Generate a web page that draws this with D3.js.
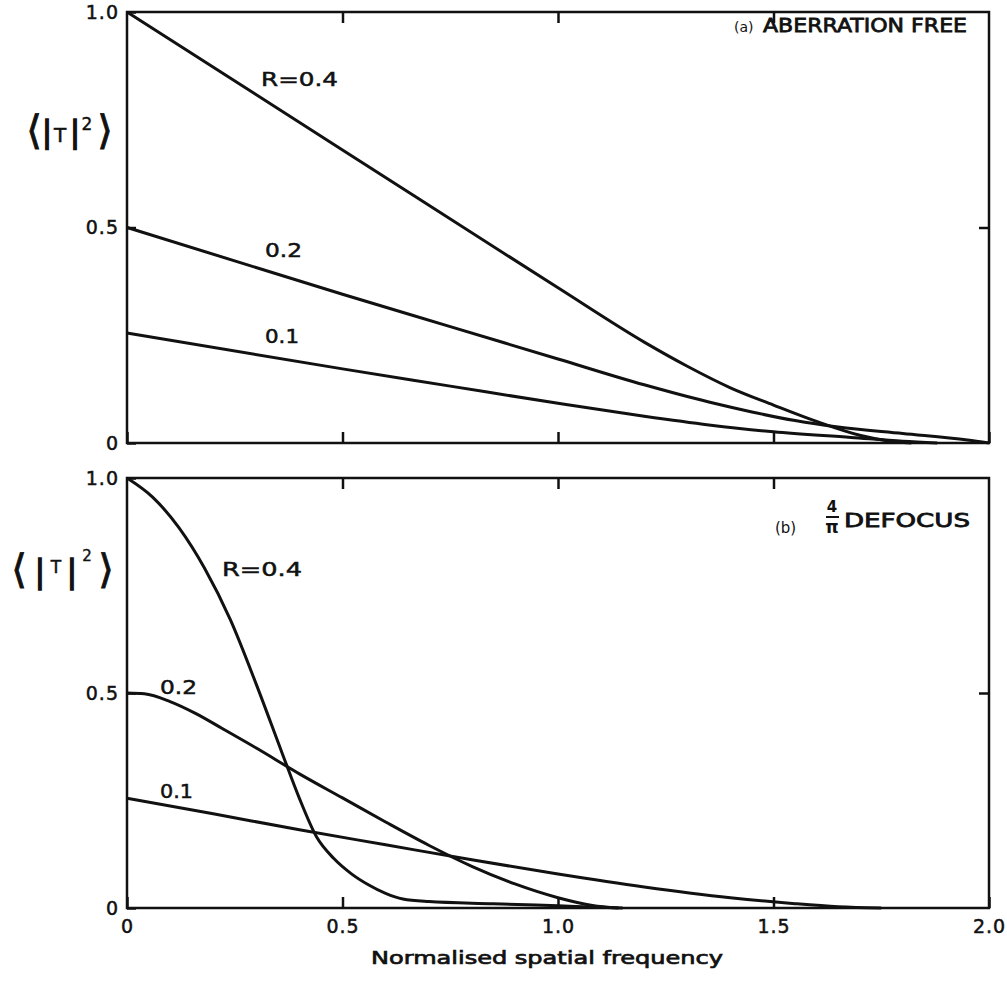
<!DOCTYPE html>
<html>
<head>
<meta charset="utf-8">
<script src="https://cdn.jsdelivr.net/npm/d3@7"></script>
<style>
  body { margin: 0; background: #fff; }
  svg { display: block; }
</style>
</head>
<body>
<svg id="chart"></svg>
<script>
// spatial frequency / mean squared transfer
// (a) aberration free
var freeR04X = [0, 0.5, 1.0, 1.2, 1.3, 1.4, 1.5, 1.6, 1.7, 1.76, 1.82];
var freeR04Y = [1.0, 0.68, 0.36, 0.234, 0.178, 0.128, 0.088, 0.05, 0.018, 0.006, 0];
var freeR02X = [0, 0.5, 0.75, 1.0, 1.2, 1.35, 1.45, 1.55, 1.65, 1.8, 1.95, 2.0];
var freeR02Y = [0.5, 0.345, 0.27, 0.195, 0.135, 0.095, 0.072, 0.052, 0.037, 0.022, 0.007, 0];
var freeR01X = [0, 0.5, 0.75, 1.0, 1.2, 1.35, 1.5, 1.68, 1.8, 1.88];
var freeR01Y = [0.255, 0.172, 0.132, 0.092, 0.062, 0.042, 0.026, 0.013, 0.004, 0];

// (b) 4/pi defocus
var defR04X = [0, 0.06, 0.12, 0.18, 0.24, 0.30, 0.36, 0.40, 0.44, 0.48, 0.52, 0.56, 0.60, 0.64, 0.7, 0.85, 1.0, 1.15];
var defR04Y = [1.0, 0.955, 0.885, 0.79, 0.67, 0.52, 0.36, 0.255, 0.165, 0.115, 0.08, 0.054, 0.034, 0.021, 0.015, 0.01, 0.005, 0];
var defR02X = [0, 0.04, 0.1, 0.16, 0.22, 0.3, 0.4, 0.5, 0.6, 0.7, 0.8, 0.9, 1.0, 1.08, 1.14];
var defR02Y = [0.5, 0.498, 0.48, 0.452, 0.418, 0.372, 0.312, 0.256, 0.2, 0.146, 0.097, 0.056, 0.024, 0.006, 0];
var defR01X = [0, 0.2, 0.4, 0.6, 0.8, 1.0, 1.2, 1.4, 1.55, 1.65, 1.75];
var defR01Y = [0.255, 0.219, 0.182, 0.147, 0.112, 0.079, 0.049, 0.024, 0.01, 0.003, 0];

var xTicks = [0, 0.5, 1.0, 1.5, 2.0];
var yTicks = [0, 0.5, 1.0];

var W = 1007, H = 981;
var svg = d3.select("#chart").attr("width", W).attr("height", H);
svg.append("rect").attr("width", W).attr("height", H).attr("fill", "#fff");

var x = d3.scaleLinear().domain([0, 2]).range([127, 989]);
var yTop = d3.scaleLinear().domain([0, 1]).range([443, 12]);
var yBot = d3.scaleLinear().domain([0, 1]).range([908, 478]);

var FONT = "DejaVu Sans, Liberation Sans, sans-serif";

function fmt(d) { return d === 0 ? "0" : d.toFixed(1); }

function drawPanel(y, series, showXLabels) {
  var g = svg.append("g");

  // inward ticks on all sides
  g.append("g")
    .attr("transform", "translate(0," + y(0) + ")")
    .call(d3.axisBottom(x).tickValues(xTicks).tickSizeInner(-11).tickSizeOuter(0)
      .tickPadding(12).tickFormat(showXLabels ? fmt : ""));
  g.append("g")
    .attr("transform", "translate(0," + y(1) + ")")
    .call(d3.axisTop(x).tickValues([0.5, 1.0, 1.5]).tickSizeInner(-11).tickSizeOuter(0).tickFormat(""));
  g.append("g")
    .attr("transform", "translate(" + x(2) + ",0)")
    .call(d3.axisRight(y).tickValues([0.5]).tickSizeInner(-10).tickSizeOuter(0).tickFormat(""));
  g.append("g")
    .attr("transform", "translate(" + x(0) + ",0)")
    .call(d3.axisLeft(y).tickValues(yTicks).tickSizeInner(-9).tickSizeOuter(0)
      .tickPadding(8).tickFormat(fmt));

  g.selectAll(".domain").remove();
  g.selectAll(".tick line").attr("stroke", "#111").attr("stroke-width", 2.5);
  g.selectAll(".tick text")
    .attr("font-family", FONT).attr("font-size", 19).attr("fill", "#111")
    .attr("stroke", "#111").attr("stroke-width", 0.5)
    .attr("letter-spacing", 1);

  // frame
  g.append("rect")
    .attr("x", x(0)).attr("y", y(1))
    .attr("width", x(2) - x(0)).attr("height", y(0) - y(1))
    .attr("fill", "none").attr("stroke", "#111").attr("stroke-width", 2.5);

  var line = d3.line()
    .x(function(d) { return x(d[0]); })
    .y(function(d) { return y(d[1]); })
    .curve(d3.curveMonotoneX);

  series.forEach(function(s) {
    g.append("path")
      .datum(d3.zip(s[0], s[1]))
      .attr("d", line)
      .attr("fill", "none")
      .attr("stroke", "#111")
      .attr("stroke-width", 3)
      .attr("stroke-linejoin", "round");
  });
  return g;
}

var gTop = drawPanel(yTop, [[freeR04X, freeR04Y], [freeR02X, freeR02Y], [freeR01X, freeR01Y]], false);
var gBot = drawPanel(yBot, [[defR04X, defR04Y], [defR02X, defR02Y], [defR01X, defR01Y]], true);

function label(g, txt, px, py, size, opts) {
  opts = opts || {};
  var t = g.append("text")
    .attr("x", px).attr("y", py)
    .attr("font-family", FONT)
    .attr("font-size", size)
    .attr("font-weight", opts.weight || "normal")
    .attr("fill", "#111")
    .attr("stroke", "#111").attr("stroke-width", opts.sw == null ? 0.5 : opts.sw)
    .attr("text-anchor", opts.anchor || "start")
    .text(txt);
  if (opts.len) t.attr("textLength", opts.len).attr("lengthAdjust", "spacingAndGlyphs");
  return t;
}

// curve labels
label(gTop, "R=0.4", 261, 86, 19, {len: 77});
label(gTop, "0.2", 265, 257, 19, {len: 37});
label(gTop, "0.1", 265, 343, 19, {len: 34});
label(gBot, "R=0.4", 222, 576, 19, {len: 80});
label(gBot, "0.2", 160, 694, 19, {len: 37});
label(gBot, "0.1", 160, 798, 19, {len: 33});

// panel titles
label(gTop, "(a)", 734, 32, 14, {sw: 0});
label(gTop, "ABERRATION FREE", 763, 32, 20, {sw: 0.8, len: 204});
label(gBot, "(b)", 775, 533, 15, {sw: 0});
label(gBot, "4", 832, 512, 15, {weight: "bold", sw: 0, anchor: "middle"});
gBot.append("line").attr("x1", 826).attr("x2", 839).attr("y1", 517).attr("y2", 517)
  .attr("stroke", "#111").attr("stroke-width", 2);
label(gBot, "π", 832, 533, 17, {weight: "bold", sw: 0, anchor: "middle"});
label(gBot, "DEFOCUS", 844, 527, 20, {sw: 0.8, len: 126});

// y axis titles  <|T|^2>
function yTitle(parts) {
  var g = svg.append("g");
  parts.forEach(function(p) {
    label(g, p[0], p[1], p[2], p[3], {anchor: "middle", sw: p[4], weight: p[5] || "normal"});
  });
}
yTitle([
  ["⟨", 34, 144, 40, 0.9],
  ["|", 47, 142, 31, 1.3],
  ["T", 60, 142, 20, 0.5],
  ["|", 75, 142, 31, 1.3],
  ["2", 87, 130, 17, 0.4],
  ["⟩", 105, 144, 40, 0.9]
]);
yTitle([
  ["⟨", 19, 583, 40, 0.9],
  ["|", 40, 582, 32, 1.3],
  ["T", 56, 573, 17, 0.5],
  ["|", 72, 582, 32, 1.3],
  ["2", 87, 561, 15, 0.4],
  ["⟩", 106, 583, 40, 0.9]
]);

// x axis title
label(svg, "Normalised spatial frequency", 371, 964, 18, {sw: 0.7, len: 352});
</script>
</body>
</html>
